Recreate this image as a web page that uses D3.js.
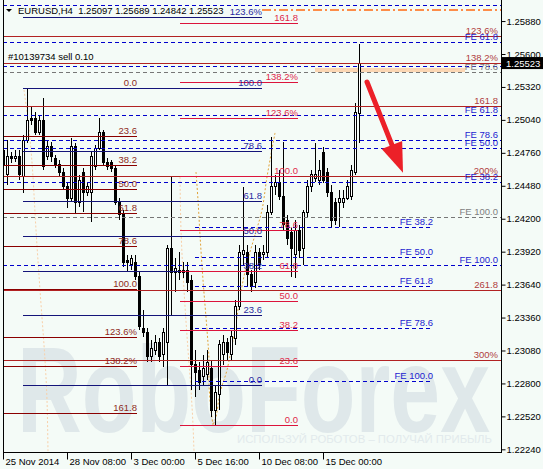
<!DOCTYPE html>
<html>
<head>
<meta charset="utf-8">
<script src="https://cdn.jsdelivr.net/npm/d3@7"></script>
<style>
body { margin: 0; background: #f4fbf7; }
svg text { font-family: "Liberation Sans", Arial, sans-serif; font-size: 9.5px; }
</style>
</head>
<body>
<div id="chart"></div>
<script>
// EURUSD H4 candles (bar 0 = 25 Nov 2014 16:00)
var opens = [
  1.24657, 1.24580, 1.24733, 1.24708, 1.24733, 1.24555, 1.24869, 1.25056, 1.25048, 1.24937,
  1.25039, 1.24725, 1.24818, 1.24708, 1.24665, 1.24597, 1.24478, 1.24376, 1.24818, 1.24335,
  1.24597, 1.24419, 1.24427, 1.24640, 1.24801, 1.24929, 1.24682, 1.24674, 1.24631, 1.24342,
  1.24232, 1.23849, 1.23807, 1.23824, 1.23705, 1.23263, 1.23229, 1.23025, 1.23084, 1.23144,
  1.23042, 1.23144, 1.23951, 1.23739, 1.23764, 1.23739, 1.23764, 1.23679, 1.22957, 1.22914,
  1.22855, 1.22872, 1.22931, 1.22574, 1.22702, 1.23042, 1.23144, 1.23042, 1.23186, 1.23450,
  1.23900, 1.23917, 1.23722, 1.23654, 1.23909, 1.23892, 1.23909, 1.24257, 1.24470, 1.24504,
  1.24385, 1.24189, 1.24087, 1.23892, 1.24104, 1.23951, 1.24250, 1.24470, 1.24546, 1.24529,
  1.24759, 1.24590, 1.24427, 1.24335, 1.24335, 1.24342, 1.24376, 1.24385, 1.24597, 1.25097
];
var highs = [
  1.24869, 1.24869, 1.24767, 1.24784, 1.24784, 1.24912, 1.25311, 1.25158, 1.25107, 1.25082,
  1.25226, 1.24869, 1.24852, 1.24742, 1.24699, 1.24631, 1.24512, 1.24886, 1.24844, 1.24572,
  1.24631, 1.24504, 1.24767, 1.24827, 1.25056, 1.24954, 1.24716, 1.24699, 1.24657, 1.24376,
  1.24274, 1.23892, 1.23892, 1.23892, 1.23747, 1.23424, 1.23271, 1.23169, 1.23212, 1.23186,
  1.23271, 1.23977, 1.24555, 1.23866, 1.23917, 1.23832, 1.23832, 1.23722, 1.23084, 1.22982,
  1.23042, 1.23084, 1.22999, 1.22787, 1.23169, 1.23212, 1.23186, 1.23254, 1.23509, 1.23977,
  1.24470, 1.23977, 1.23764, 1.23977, 1.23951, 1.23977, 1.24317, 1.24895, 1.24572, 1.24614,
  1.24852, 1.24232, 1.24121, 1.24189, 1.24147, 1.24274, 1.24529, 1.24614, 1.24844, 1.24699,
  1.24810, 1.24631, 1.24487, 1.24376, 1.24444, 1.24444, 1.24529, 1.24657, 1.25184, 1.25689
];
var lows = [
  1.24359, 1.24487, 1.24674, 1.24682, 1.24529, 1.24419, 1.24844, 1.24997, 1.24912, 1.24912,
  1.24614, 1.24699, 1.24682, 1.24631, 1.24563, 1.24444, 1.24291, 1.24342, 1.24250, 1.24300,
  1.24257, 1.24393, 1.24172, 1.24614, 1.24784, 1.24657, 1.24614, 1.24597, 1.24317, 1.24189,
  1.23790, 1.23747, 1.23764, 1.23679, 1.23254, 1.23195, 1.22982, 1.22982, 1.23042, 1.22982,
  1.22940, 1.22787, 1.23382, 1.23577, 1.23679, 1.23696, 1.23577, 1.22744, 1.22685, 1.22744,
  1.22787, 1.22829, 1.22515, 1.22447, 1.22574, 1.22957, 1.22999, 1.22999, 1.23127, 1.23424,
  1.23807, 1.23620, 1.23577, 1.23611, 1.23764, 1.23849, 1.23866, 1.24232, 1.24402, 1.24359,
  1.24104, 1.23977, 1.23705, 1.23696, 1.23866, 1.23807, 1.24206, 1.24427, 1.24512, 1.24487,
  1.24504, 1.24385, 1.24130, 1.24147, 1.24130, 1.24291, 1.24359, 1.24359, 1.24572, 1.24842
];
var closes = [
  1.24784, 1.24725, 1.24708, 1.24733, 1.24572, 1.24869, 1.25031, 1.25031, 1.24937, 1.25039,
  1.24640, 1.24818, 1.24725, 1.24657, 1.24590, 1.24470, 1.24376, 1.24818, 1.24335, 1.24529,
  1.24419, 1.24470, 1.24725, 1.24801, 1.24929, 1.24674, 1.24648, 1.24631, 1.24342, 1.24232,
  1.23832, 1.23824, 1.23866, 1.23705, 1.23280, 1.23229, 1.23025, 1.23101, 1.23144, 1.23025,
  1.23229, 1.23951, 1.23739, 1.23773, 1.23739, 1.23764, 1.23662, 1.22957, 1.22889, 1.22804,
  1.22931, 1.22982, 1.22574, 1.22719, 1.23127, 1.23152, 1.23059, 1.23195, 1.23450, 1.23909,
  1.23926, 1.23722, 1.23620, 1.23909, 1.23807, 1.23909, 1.24257, 1.24470, 1.24504, 1.24385,
  1.24147, 1.24036, 1.23951, 1.24104, 1.23934, 1.24250, 1.24470, 1.24572, 1.24572, 1.24614,
  1.24529, 1.24427, 1.24189, 1.24189, 1.24368, 1.24376, 1.24470, 1.24614, 1.25099, 1.25523
];

var xTickBars = [0, 16, 32, 48, 64, 80];
var xTickLabels = ["25 Nov 2014", "28 Nov 08:00", "3 Dec 00:00", "5 Dec 16:00", "10 Dec 08:00", "15 Dec 00:00"];
var yTicks = [1.2224, 1.2252, 1.2280, 1.2308, 1.2336, 1.2364, 1.2392, 1.2420, 1.2448, 1.2476, 1.2504, 1.2532, 1.2560, 1.2588];
var lastPrice = 1.25523;

// fibo retracements: price at level 0 and level 100, bar span
var retrLevels = [0, 23.6, 38.2, 50, 61.8, 78.6, 100, 123.6, 138.2, 161.8];
var retrLabels = ["0.0", "23.6", "38.2", "50.0", "61.8", "78.6", "100.0", "123.6%", "138.2%", "161.8"];
var maroonAnchors = [1.25307, 1.23600], maroonSpan = [0, 33.5], maroonZeroStart = 5;
var navyLevels = [0, 23.6, 38.2, 50, 61.8, 78.6, 100, 123.6];
var navyLabels = ["0.0", "23.6", "38.2", "50.0", "61.8", "78.6", "100.0", "123.6%"];
var navyAnchors = [1.22787, 1.25315], navySpan = [5, 64.75];
var crimsonAnchors = [1.22447, 1.24559], crimsonSpan = [44.25, 73.75];

// fibo expansion: price at level 100 and level 200
var expLevels = [123.6, 138.2, 161.8, 200, 261.8, 300];
var expLabels = ["123.6%", "138.2%", "161.8", "200%", "261.8", "300%"];
var expAnchors = [1.26119, 1.24559];

// FE projections: price at level 0 and level 100
var feLevels = [38.2, 50, 61.8, 78.6, 100];
var feLabels = ["FE 38.2", "FE 50.0", "FE 61.8", "FE 78.6", "FE 100.0"];
var feAAnchors = [1.23577, 1.26017], feALabels = ["FE 38.2", "FE 50.0", "FE 61.8", "", ""];
var feBAnchors = [1.24935, 1.22820], feBSpan = [48, 107.5];
var feCLevels = [61.8, 78.6, 100], feCLabels = ["FE 61.8", "FE 78.6", "FE 100.0"];
var feCAnchors = [1.28776, 1.23807];
var feGLevels = [78.6, 100], feGLabels = ["FE 78.6", "FE 100.0"];
var feGAnchors = [1.29969, 1.24212];

// other objects
var orderLinePrice = 1.25974, orderLineSpan = [64.75, 124.6];
var bandPrices = [1.25481, 1.25446], bandSpan = [78, 115.5];
var arrowBars = [91, 100], arrowPrices = [1.25362, 1.24590];
var arcA = [[68, 1.24929], [66, 1.24555], [64.75, 1.24274], [63, 1.24062], [61, 1.23824], [59.25, 1.23535],
            [58, 1.23254], [57, 1.23084], [56, 1.22914], [54.25, 1.22719], [53.25, 1.22515], [52.5, 1.22447]];
var arcB = [[48.25, 1.24597], [48.75, 1.24359], [49.25, 1.24062], [50, 1.23679], [51, 1.23254],
            [51.5, 1.22999], [51.5, 1.22787], [52, 1.22574], [52.5, 1.22447]];
var arcC = [[5.25, 1.25294], [6.25, 1.25039], [7, 1.24784], [7.5, 1.24555], [8.25, 1.24104],
            [9.25, 1.23594], [10.5, 1.22999], [11, 1.22659], [11.25, 1.22217]];
var arcD = [[44.25, 1.24555], [44.5, 1.24104], [45.25, 1.23594], [46.25, 1.23084], [47, 1.22744],
            [47.5, 1.22447], [47.75, 1.22217]];

var width = 543, height = 469;
var plotLeft = 3, plotRight = 501.5, plotBottom = 452.5;

var x = d3.scaleLinear().domain([0, 124.625]).range([plotLeft, plotRight]);
var y = d3.scaleLinear().domain([1.26059, 1.22213]).range([0, plotBottom]);

var svg = d3.select("#chart").append("svg")
    .attr("width", width)
    .attr("height", height);

svg.append("rect").attr("width", width).attr("height", height).attr("fill", "#f4fbf7");

svg.append("defs").append("clipPath").attr("id", "plotclip")
  .append("rect").attr("x", plotLeft).attr("y", 0)
  .attr("width", plotRight - plotLeft).attr("height", plotBottom);

var plot = svg.append("g").attr("clip-path", "url(#plotclip)");

// watermark
plot.append("text")
    .attr("x", 17).attr("y", 432)
    .attr("textLength", 473).attr("lengthAdjust", "spacingAndGlyphs")
    .style("font-size", "122px").style("font-weight", "bold")
    .attr("fill", "#dfe8ea")
    .text("RoboForex");
plot.append("text")
    .attr("x", 237).attr("y", 443)
    .attr("textLength", 255).attr("lengthAdjust", "spacingAndGlyphs")
    .style("font-size", "11.5px")
    .attr("fill", "#e2eaec")
    .text("ИСПОЛЬЗУЙ РОБОТОВ – ПОЛУЧАЙ ПРИБЫЛЬ");

// peach band
plot.append("rect")
    .attr("x", x(bandSpan[0])).attr("width", x(bandSpan[1]) - x(bandSpan[0]))
    .attr("y", y(bandPrices[0])).attr("height", y(bandPrices[1]) - y(bandPrices[0]))
    .attr("fill", "#fbd6b3");

// arcs
var arcLine = d3.line()
    .x(function(d) { return x(d[0]); })
    .y(function(d) { return y(d[1]); })
    .curve(d3.curveCatmullRom);

[[arcC, "#f8cfa8"], [arcD, "#f8cfa8"], [arcA, "#e0a238"], [arcB, "#e0a238"]].forEach(function(a) {
  plot.append("path").attr("d", arcLine(a[0]))
    .attr("fill", "none").attr("stroke", a[1])
    .attr("stroke-width", 1).attr("stroke-dasharray", "2,2");
});

// candles
var bars = d3.range(opens.length).map(function(i) {
  return {i: i, o: opens[i], h: highs[i], l: lows[i], c: closes[i]};
});

var candles = plot.selectAll(".candle")
  .data(bars)
  .enter().append("g")
    .attr("class", "candle")
    .attr("shape-rendering", "crispEdges");

candles.append("line")
    .attr("x1", function(d) { return Math.round(x(d.i)) + 0.5; })
    .attr("x2", function(d) { return Math.round(x(d.i)) + 0.5; })
    .attr("y1", function(d) { return y(d.h); })
    .attr("y2", function(d) { return y(d.l); })
    .attr("stroke", "#000");

candles.append("rect")
    .attr("x", function(d) { return Math.round(x(d.i)) - 0.5; })
    .attr("width", 2)
    .attr("y", function(d) { return y(Math.max(d.o, d.c)); })
    .attr("height", function(d) { return Math.max(1, Math.abs(y(d.o) - y(d.c))); })
    .attr("fill", function(d) { return d.c >= d.o ? "#fff" : "#000"; })
    .attr("stroke", "#000");

// level series
function levelPrice(L, la, lb, pa, pb) {
  return pa + (L - la) / (lb - la) * (pb - pa);
}

var labelLayer = svg.append("g").attr("clip-path", "url(#plotclip)");
var full = [0, 124.625];

function drawSeries(levels, labels, la, lb, anchors, span, lineColor, textColor, dash, zeroStart) {
  var rows = levels.map(function(L, k) {
    return {L: L, p: levelPrice(L, la, lb, anchors[0], anchors[1]), label: labels[k]};
  });
  var g = plot.append("g");
  g.selectAll("line").data(rows).enter().append("line")
    .attr("x1", function(d) { return x(d.L === 0 && zeroStart != null ? zeroStart : span[0]); })
    .attr("x2", x(span[1]))
    .attr("y1", function(d) { return Math.round(y(d.p)) + 0.5; })
    .attr("y2", function(d) { return Math.round(y(d.p)) + 0.5; })
    .attr("stroke", lineColor)
    .attr("stroke-width", 1)
    .attr("stroke-dasharray", dash)
    .attr("shape-rendering", "crispEdges");
  labelLayer.selectAll(null).data(rows.filter(function(d) { return d.label; })).enter().append("text")
    .attr("x", Math.min(x(span[1]), 498))
    .attr("y", function(d) { return Math.round(y(d.p)) - 2; })
    .attr("text-anchor", "end")
    .attr("fill", textColor)
    .text(function(d) { return d.label; });
}

drawSeries(expLevels, expLabels, 100, 200, expAnchors, full, "#b22222", "#b04040", null);
drawSeries(feLevels, feALabels, 0, 100, feAAnchors, full, "#0000cd", "#1c1cd0", "4,3");
drawSeries(feCLevels, feCLabels, 0, 100, feCAnchors, full, "#0000cd", "#1c1cd0", "4,3");
drawSeries(feGLevels, feGLabels, 0, 100, feGAnchors, full, "#777", "#808080", "4,3");
drawSeries(feLevels, feLabels, 0, 100, feBAnchors, feBSpan, "#0000cd", "#1c1cd0", "4,3");
drawSeries(retrLevels, retrLabels, 0, 100, maroonAnchors, maroonSpan, "#8b0000", "#8e2a22", null, maroonZeroStart);
drawSeries(navyLevels, navyLabels, 0, 100, navyAnchors, navySpan, "#14147a", "#2a2aa0", null);
drawSeries(retrLevels, retrLabels, 0, 100, crimsonAnchors, crimsonSpan, "#dc143c", "#e0284a", null);

// order line
plot.append("line")
    .attr("x1", x(orderLineSpan[0])).attr("x2", x(orderLineSpan[1]))
    .attr("y1", y(orderLinePrice)).attr("y2", y(orderLinePrice))
    .attr("stroke", "#ff6a10").attr("stroke-width", 1.3)
    .attr("stroke-dasharray", "9,3,2,3");

// red arrow
var ax0 = x(arrowBars[0]), ay0 = y(arrowPrices[0]);
var ax1 = x(arrowBars[1]), ay1 = y(arrowPrices[1]);
var ang = Math.atan2(ay1 - ay0, ax1 - ax0);
var headLen = 30, headW = 11;
var bx = ax1 - headLen * Math.cos(ang), by = ay1 - headLen * Math.sin(ang);
plot.append("line")
    .attr("x1", ax0).attr("y1", ay0)
    .attr("x2", bx + 4 * Math.cos(ang)).attr("y2", by + 4 * Math.sin(ang))
    .attr("stroke", "#ec2028").attr("stroke-width", 5).attr("stroke-linecap", "round");
plot.append("path")
    .attr("d", "M" + ax1 + "," + ay1 +
      "L" + (bx - headW * Math.sin(ang)) + "," + (by + headW * Math.cos(ang)) +
      "L" + (bx + headW * Math.sin(ang)) + "," + (by - headW * Math.cos(ang)) + "Z")
    .attr("fill", "#ec2028");

// header texts
svg.append("path").attr("d", "M6,9L12,9L9,12Z").attr("fill", "#000");
svg.append("text").attr("x", 18).attr("y", 13.5).style("white-space", "pre")
    .text("EURUSD,H4  1.25097 1.25689 1.24842 1.25523");
svg.append("text").attr("x", 8).attr("y", 59.5)
    .text("#10139734 sell 0.10");

// axes
var yAxis = svg.append("g")
    .attr("transform", "translate(" + plotRight + ",0)")
    .call(d3.axisRight(y).tickValues(yTicks).tickFormat(d3.format(".5f")).tickSize(4).tickSizeOuter(0));
yAxis.select(".domain").remove();
yAxis.selectAll("text").attr("x", 5).style("font-size", "9.5px").style("font-family", "Liberation Sans, Arial, sans-serif");

var xAxis = svg.append("g")
    .attr("transform", "translate(0," + plotBottom + ")")
    .call(d3.axisBottom(x).tickValues(xTickBars)
      .tickFormat(function(d, i) { return xTickLabels[i]; })
      .tickSize(7).tickSizeOuter(0));
xAxis.select(".domain").remove();
xAxis.selectAll("text").attr("x", 2).attr("y", 6).attr("dy", "0.71em")
    .style("text-anchor", "start").style("font-size", "9.5px")
    .style("font-family", "Liberation Sans, Arial, sans-serif");

// frame
svg.append("path")
    .attr("d", "M" + (plotLeft + 0.5) + ",0V" + plotBottom + "H" + plotRight + "V0")
    .attr("fill", "none").attr("stroke", "#000").attr("shape-rendering", "crispEdges");

// last price box
svg.append("rect").attr("x", plotRight).attr("y", y(lastPrice) - 6)
    .attr("width", width - plotRight).attr("height", 12).attr("fill", "#000");
svg.append("text").attr("x", plotRight + 4.5).attr("y", y(lastPrice) + 3.5)
    .attr("fill", "#fff").text(d3.format(".5f")(lastPrice));
</script>
</body>
</html>
